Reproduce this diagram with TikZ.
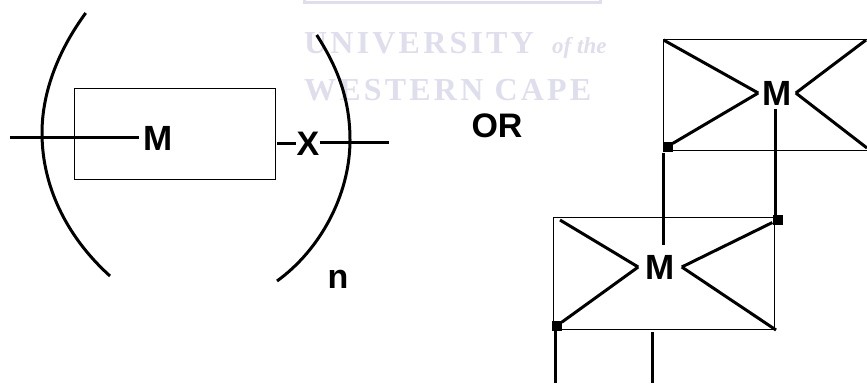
\documentclass[tikz,border=0pt]{standalone}
\usepackage{fontspec}
\setmainfont{Liberation Sans}
\newfontfamily\crestfont[LetterSpace=10]{Liberation Serif}
\newfontfamily\crestplain{Liberation Serif}
\definecolor{crest}{RGB}{222,222,236}
\begin{document}
\begin{tikzpicture}[x=1pt, y=-1pt,
  box/.style={draw, line width=1pt, minimum width=0pt, inner sep=0pt},
  bond/.style={line width=3pt},
  metal/.style={font=\fontsize{35}{35}\selectfont\bfseries, inner xsep=4pt, inner ysep=2pt},
  label/.style={font=\fontsize{34}{34}\selectfont\bfseries, inner sep=0pt},
  joint/.style={fill=black, minimum size=10pt, inner sep=0pt},
  crestline/.style={text=crest, inner sep=0pt, anchor=base west}]
\useasboundingbox (0,0) rectangle (867,383);
% faint print behind the drawing
\draw[crest, line width=3pt] (304,-4) |- (600,2) -- (600,-4);
\node[crestline, font=\fontsize{32}{32}\selectfont\bfseries\crestfont] (uni) at (304,53) {UNIVERSITY};
\node[crestline, font=\fontsize{23}{23}\selectfont\bfseries\itshape\crestplain] (ofthe) at (552,53) {of the};
\node[crestline, font=\fontsize{32}{32}\selectfont\bfseries\crestfont] (wc) at (304,100) {WESTERN CAPE};
% repeat unit in brackets
\node[box, minimum width=201pt, minimum height=90.5pt] (unit) at (175,133.75) {};
\node[metal] (m1) at (158,138) {M};
\node[label] (x1) at (308,144) {X};
\node[label] (n1) at (338,279) {n};
\node[label] (or) at (497,126) {OR};
\coordinate (a1) at (10,137);
\coordinate (a2) at (389,142);
\coordinate (a3) at (277,143);
\draw[bond] (a1) -- (a1 -| m1.west);
\draw[bond] (a3) -- (a3 -| x1.west);
\draw[bond] (a2 -| x1.east) -- (a2);
\draw[bond] (85.7,13) .. controls (60,48) and (42,90) .. (42,133) .. controls (42,190) and (70,240) .. (110,276);
\draw[bond] (316.7,35) .. controls (338,68) and (350,100) .. (350,140) .. controls (350,195) and (320,250) .. (277,281);
% upper unit
\node[box, minimum width=204pt, minimum height=111pt] (top) at (765.5,95) {};
\node[metal] (m2) at (777,93) {M};
\node[joint] (s1) at (667.5,146.5) {};
\coordinate (c1) at (663.5,40);
\coordinate (c2) at (866,40);
\coordinate (c3) at (867,148);
\draw[bond] (c1) -- (m2.west);
\draw[bond] (s1) -- (m2.west);
\draw[bond] (c2) -- (m2.east);
\draw[bond] (c3) -- (m2.east);
% lower unit
\node[box, minimum width=221pt, minimum height=112pt] (low) at (663.5,273) {};
\node[metal, inner xsep=7pt] (m3) at (660,267) {M};
\node[joint] (s2) at (777.5,220) {};
\node[joint] (s3) at (556.5,326) {};
\coordinate (c4) at (560,220);
\coordinate (c5) at (776,330);
\draw[bond] (c4) -- (m3.west);
\draw[bond] (s3) -- (m3.west);
\draw[bond] (s2) -- (m3.east);
\draw[bond] (c5) -- (m3.east);
% links between units
\coordinate (d1) at (663.5,153);
\coordinate (d2) at (663.5,245);
\coordinate (d3) at (775,109);
\coordinate (d4) at (775,218);
\coordinate (d5) at (555,326);
\coordinate (d6) at (555,383);
\coordinate (d7) at (652.7,332);
\coordinate (d8) at (652.7,383);
\draw[bond] (d1) -- (d2);
\draw[bond] (d3) -- (d4);
\draw[bond] (d5) -- (d6);
\draw[bond] (d7) -- (d8);
\end{tikzpicture}
\end{document}
